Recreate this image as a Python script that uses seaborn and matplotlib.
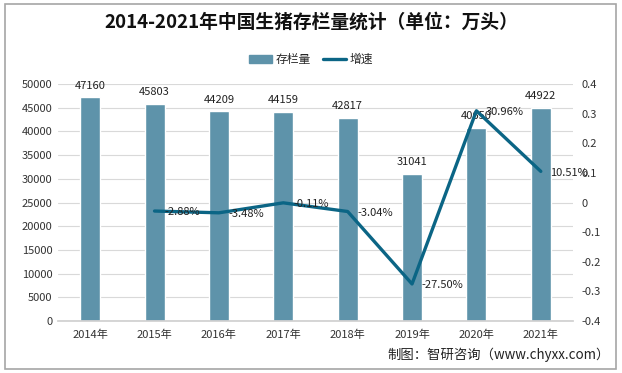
import matplotlib

matplotlib.use("Agg")
import matplotlib.pyplot as plt
import numpy as np
import pandas as pd
import seaborn as sns
from matplotlib.lines import Line2D
from matplotlib.patches import Patch, Rectangle

# ------------------------------------------------------------
# 数据
# ------------------------------------------------------------
years = ["2014年", "2015年", "2016年", "2017年", "2018年", "2019年", "2020年", "2021年"]
stock = [47160, 45803, 44209, 44159, 42817, 31041, 40650, 44922]
growth = [np.nan, -0.0288, -0.0348, -0.0011, -0.0304, -0.2750, 0.3096, 0.1051]
growth_labels = ["", "-2.88%", "-3.48%", "-0.11%", "-3.04%", "-27.50%", "30.96%", "10.51%"]
left_ticks = [0, 5000, 10000, 15000, 20000, 25000, 30000, 35000, 40000, 45000, 50000]
right_ticks = [-0.4, -0.3, -0.2, -0.1, 0, 0.1, 0.2, 0.3, 0.4]

BAR_COLOR = "#5E93AA"
LINE_COLOR = "#0B6585"

sns.set_theme(style="white")
plt.rcParams["font.family"] = ["Noto Sans CJK SC", "DejaVu Sans"]

df = pd.DataFrame({"year": years, "stock": stock, "growth": growth})
df["pos"] = np.arange(len(df))

fig = plt.figure(figsize=(6.22, 3.73), dpi=100)
ax = fig.add_axes([0.0932, 0.1394, 0.8280, 0.6354])

sns.barplot(data=df, x="year", y="stock", color=BAR_COLOR, width=0.31,
            saturation=1, ax=ax)
ax.set_ylim(0, 50000)
ax.set_xlim(-0.5, len(years) - 0.5)
ax.set_yticks(left_ticks)
ax.set_yticklabels([str(t) for t in left_ticks], fontsize=8, color="#333333")
ax.tick_params(axis="x", labelsize=8, colors="#333333", length=0, pad=6)
ax.tick_params(axis="y", length=0, pad=4)
ax.set_xlabel("")
ax.set_ylabel("")
ax.yaxis.grid(True, color="#D9D9D9", linewidth=0.8)
ax.set_axisbelow(True)
for side in ["top", "left", "right"]:
    ax.spines[side].set_visible(False)
ax.spines["bottom"].set_color("#D0D0D0")

for p, v in zip(df["pos"], df["stock"]):
    ax.annotate(str(v), (p, v), xytext=(0, 5), textcoords="offset points",
                ha="center", va="bottom", fontsize=8, color="#222222")

ax2 = ax.twinx()
line_df = df.dropna(subset=["growth"])
sns.lineplot(data=line_df, x="pos", y="growth", color=LINE_COLOR, linewidth=2.4,
             ax=ax2)
ax2.set_ylim(-0.4, 0.4)
ax2.set_xlim(-0.5, len(years) - 0.5)
ax2.set_yticks(right_ticks)
ax2.set_yticklabels([f"{t:g}" for t in right_ticks], fontsize=8, color="#333333")
ax2.tick_params(axis="y", length=0, pad=6)
ax2.set_xlabel("")
ax2.set_ylabel("")
for side in ["top", "left", "right", "bottom"]:
    ax2.spines[side].set_visible(False)

# 增速标签放在折点右侧
for p, v, lab in zip(df["pos"], df["growth"], growth_labels):
    if lab:
        ax2.annotate(lab, (p, v), xytext=(7, -1), textcoords="offset points",
                     ha="left", va="center", fontsize=8, color="#222222")

fig.text(0.5, 0.94, "2014-2021年中国生猪存栏量统计（单位：万头）", ha="center",
         va="center", fontsize=13.5, fontweight="bold", color="#111111")

handles = [Patch(color=BAR_COLOR, label="存栏量"),
           Line2D([0], [0], color=LINE_COLOR, linewidth=2.4, label="增速")]
fig.legend(handles=handles, loc="center", bbox_to_anchor=(0.5, 0.84), ncol=2,
           frameon=False, fontsize=8.5, handlelength=2.0, handleheight=0.7,
           columnspacing=1.0, handletextpad=0.3)

fig.text(0.98, 0.048, "制图：智研咨询（www.chyxx.com）", ha="right", va="center",
         fontsize=9.6, color="#222222")

fig.patches.append(Rectangle((0.008, 0.012), 0.982, 0.978, transform=fig.transFigure,
                             fill=False, edgecolor="#A6A6A6", linewidth=1.2))

fig.savefig("out.png", dpi=100)
plt.close(fig)
